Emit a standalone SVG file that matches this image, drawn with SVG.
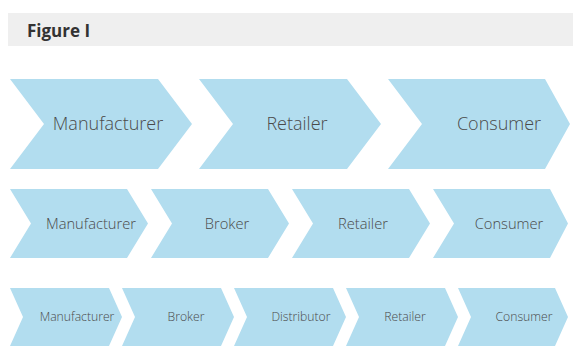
<svg xmlns="http://www.w3.org/2000/svg" width="573" height="349" viewBox="0 0 573 349">
<style>
.chev{fill:#b2ddef}
.t{font-family:"Open Sans",Lato,"Liberation Sans",sans-serif;font-weight:300;fill:#4a4a4a;text-anchor:middle}
.r1{font-size:18px}
.r2{font-size:14.7px}
.r3{font-size:12.2px}
.hd{font-family:"Open Sans","Liberation Sans",sans-serif;font-weight:bold;font-size:17px;fill:#333}
</style>
<rect x="8" y="13" width="565" height="33" fill="#efefef"/>
<text class="hd" x="27" y="37">Figure I</text>
<g id="row1">
<g id="r1-manufacturer"><polygon class="chev" points="10,79 158,79 192,124 158,169 10,169 44,124"/><text class="t r1" x="108" y="130">Manufacturer</text></g>
<g id="r1-retailer"><polygon class="chev" points="199,79 347,79 381,124 347,169 199,169 233,124"/><text class="t r1" x="297" y="130">Retailer</text></g>
<g id="r1-consumer"><polygon class="chev" points="388,79 545,79 570,124 545,169 388,169 422,124"/><text class="t r1" x="499" y="130">Consumer</text></g>
</g>
<g id="row2">
<g id="r2-manufacturer"><polygon class="chev" points="10,189 127,189 148,223.5 127,258 10,258 31,223.5"/><text class="t r2" x="91" y="228.5">Manufacturer</text></g>
<g id="r2-broker"><polygon class="chev" points="151,189 268,189 289,223.5 268,258 151,258 172,223.5"/><text class="t r2" x="227" y="228.5">Broker</text></g>
<g id="r2-retailer"><polygon class="chev" points="292,189 409,189 430,223.5 409,258 292,258 313,223.5"/><text class="t r2" x="363" y="228.5">Retailer</text></g>
<g id="r2-consumer"><polygon class="chev" points="433,189 550,189 568,223.5 550,258 433,258 454,223.5"/><text class="t r2" x="509" y="228.5">Consumer</text></g>
</g>
<g id="row3">
<g id="r3-manufacturer"><polygon class="chev" points="10,288 109,288 122,317 109,346 10,346 23,317"/><text class="t r3" x="77" y="321">Manufacturer</text></g>
<g id="r3-broker"><polygon class="chev" points="122,288 221,288 234,317 221,346 122,346 135,317"/><text class="t r3" x="186" y="321">Broker</text></g>
<g id="r3-distributor"><polygon class="chev" points="234,288 333,288 346,317 333,346 234,346 247,317"/><text class="t r3" x="301" y="321">Distributor</text></g>
<g id="r3-retailer"><polygon class="chev" points="346,288 445,288 458,317 445,346 346,346 359,317"/><text class="t r3" x="405" y="321">Retailer</text></g>
<g id="r3-consumer"><polygon class="chev" points="458,288 555,288 568,317 555,346 458,346 471,317"/><text class="t r3" x="524" y="321">Consumer</text></g>
</g>
<g id="connectors"/>
</svg>
